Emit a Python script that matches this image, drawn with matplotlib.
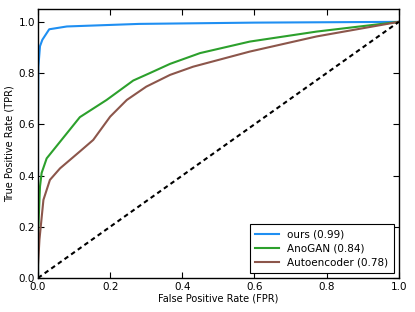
import matplotlib
matplotlib.use("Agg")
import matplotlib.pyplot as plt

ours_fpr = [0.0, 0.0, 0.001, 0.0055, 0.012, 0.031, 0.08, 0.28, 0.6, 1.0]
ours_tpr = [0.0, 0.6, 0.825, 0.905, 0.93, 0.971, 0.982, 0.992, 0.997, 1.0]

anogan_fpr = [0.0, 0.0, 0.001, 0.0055, 0.01, 0.024, 0.052, 0.116, 0.19, 0.264, 0.31, 0.366, 0.449, 0.587, 0.772, 1.0]
anogan_tpr = [0.0, 0.1, 0.2, 0.357, 0.41, 0.467, 0.516, 0.628, 0.695, 0.771, 0.80, 0.836, 0.878, 0.923, 0.962, 1.0]

ae_fpr = [0.0, 0.0, 0.004, 0.015, 0.033, 0.061, 0.116, 0.153, 0.2, 0.246, 0.30, 0.366, 0.43, 0.587, 0.772, 1.0]
ae_tpr = [0.0, 0.05, 0.15, 0.305, 0.383, 0.428, 0.494, 0.539, 0.63, 0.695, 0.747, 0.793, 0.825, 0.884, 0.943, 1.0]

labels = ["ours (0.99)", "AnoGAN (0.84)", "Autoencoder (0.78)"]
colors = ["#1f8ff2", "#2ca02c", "#8c564b"]

fig = plt.figure(figsize=(4.15, 3.12), dpi=100)
ax = fig.add_axes([0.0916, 0.109, 0.8694, 0.862])
ax.plot(ours_fpr, ours_tpr, color=colors[0], lw=1.5, label=labels[0])
ax.plot(anogan_fpr, anogan_tpr, color=colors[1], lw=1.5, label=labels[1])
ax.plot(ae_fpr, ae_tpr, color=colors[2], lw=1.5, label=labels[2])
ax.plot([0, 1], [0, 1], color="black", lw=1.5, ls=(0, (2.2, 1.7)))
ax.set_xlim(0, 1)
ax.set_ylim(0, 1.05)
ax.set_xticks([0, 0.2, 0.4, 0.6, 0.8, 1.0])
ax.set_yticks([0, 0.2, 0.4, 0.6, 0.8, 1.0])
ax.set_xticklabels(["0.0", "0.2", "0.4", "0.6", "0.8", "1.0"])
ax.set_yticklabels(["0.0", "0.2", "0.4", "0.6", "0.8", "1.0"])
ax.tick_params(direction="in", top=True, right=True, labelsize=7.5, length=4, width=0.8, pad=2)
ax.tick_params(axis="x", pad=3)
ax.set_xlabel("False Positive Rate (FPR)", fontsize=7, labelpad=1)
ax.set_ylabel("True Positive Rate (TPR)", fontsize=7, labelpad=3)
for s in ax.spines.values():
    s.set_linewidth(1.0)
leg = ax.legend(loc="lower right", fontsize=7.5, fancybox=False, edgecolor="black",
                framealpha=1, handlelength=2.3, borderpad=0.5, labelspacing=0.4)
leg.get_frame().set_linewidth(0.8)
fig.savefig("out.png", dpi=100)
